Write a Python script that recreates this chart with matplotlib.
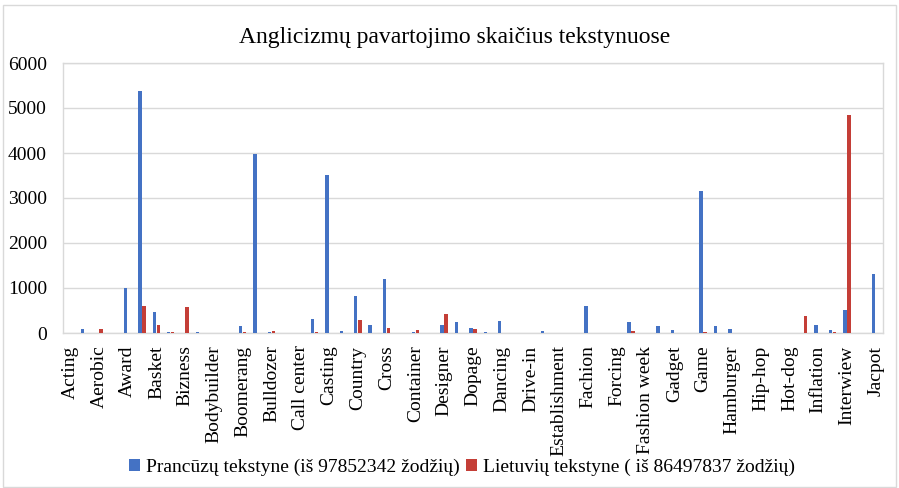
import numpy as np
import matplotlib.pyplot as plt
from matplotlib.patches import Rectangle

# Only every second category is labelled on the axis (as in the source chart)
labels = ["Acting", "Aerobic", "Award", "Basket", "Bizness", "Bodybuilder",
          "Boomerang", "Bulldozer", "Call center", "Casting", "Country", "Cross",
          "Container", "Designer", "Dopage", "Dancing", "Drive-in", "Establishment",
          "Fachion", "Forcing", "Fashion week", "Gadget", "Game", "Hamburger",
          "Hip-hop", "Hot-dog", "Inflation", "Interwiew", "Jacpot"]

# 57 categories in total
fr_counts = [0, 90, 10, 5, 1000, 5380, 460, 15, 0, 20,
             0, 0, 150, 3980, 25, 0, 0, 305, 3510, 40,
             815, 175, 1200, 0, 30, 0, 185, 240, 110, 15,
             260, 0, 0, 45, 5, 0, 595, 0, 0, 240,
             0, 145, 70, 0, 3150, 160, 100, 10, 0, 10,
             0, 0, 180, 70, 515, 0, 1305]
lt_counts = [0, 0, 80, 0, 0, 610, 170, 25, 580, 0,
             0, 0, 15, 5, 45, 0, 0, 15, 0, 0,
             290, 0, 120, 0, 60, 0, 430, 0, 80, 0,
             0, 0, 0, 0, 0, 0, 0, 0, 0, 55,
             0, 0, 0, 0, 30, 0, 0, 0, 0, 0,
             0, 370, 0, 15, 4845, 0, 0]

legend_fr = "Prancūzų tekstyne (iš 97852342 žodžių)"
legend_lt = "Lietuvių tekstyne ( iš 86497837 žodžių)"
title = "Anglicizmų pavartojimo skaičius tekstynuose"

plt.rcParams['font.family'] = ['Liberation Serif', 'DejaVu Serif']

fig = plt.figure(figsize=(8.99, 4.88), dpi=100)
ax = fig.add_axes([63/899, 1-333/488, 820/899, 270/488])

x = np.arange(len(fr_counts))
ax.bar(x - 0.15, fr_counts, width=0.24, color="#4472C4", label=legend_fr, zorder=3)
ax.bar(x + 0.13, lt_counts, width=0.24, color="#C43E37", label=legend_lt, zorder=3)

ax.set_xlim(-0.5, len(fr_counts) - 0.5)
ax.set_ylim(0, 6000)
ax.set_yticks(range(0, 6001, 1000))
ax.set_xticks(range(0, len(fr_counts), 2))
ax.set_xticklabels(labels, rotation=90, fontsize=14)
ax.tick_params(axis="y", labelsize=14, length=0, pad=11.5)
ax.tick_params(axis="x", length=0, pad=9)

ax.grid(axis="y", color="#d9d9d9", linewidth=1, zorder=0)
for s in ax.spines.values():
    s.set_color("#d9d9d9")
    s.set_linewidth(1)

fig.text(455/899, 1-37/488, title, ha="center", va="center", fontsize=17)

fig.legend(loc="center", bbox_to_anchor=(462/899, 1-467/488), ncol=2, frameon=False,
           fontsize=14, handlelength=0.6, handleheight=0.6, handletextpad=0.3,
           columnspacing=0.3, borderaxespad=0)

# outer chart border
fig.patches.append(Rectangle((3/899, 1/488), 893/899, 482/488, transform=fig.transFigure,
                             fill=False, edgecolor="#d9d9d9", linewidth=1))

plt.savefig("out.png", dpi=100)
